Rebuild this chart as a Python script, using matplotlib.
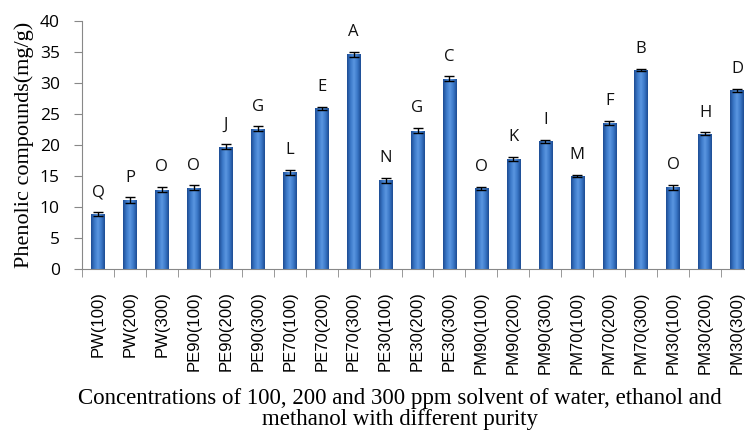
import numpy as np
import matplotlib
matplotlib.use("Agg")
import matplotlib.pyplot as plt
from matplotlib.colors import LinearSegmentedColormap

categories = ["PW(100)", "PW(200)", "PW(300)", "PE90(100)", "PE90(200)", "PE90(300)",
              "PE70(100)", "PE70(200)", "PE70(300)", "PE30(100)", "PE30(200)", "PE30(300)",
              "PM90(100)", "PM90(200)", "PM90(300)", "PM70(100)", "PM70(200)", "PM70(300)",
              "PM30(100)", "PM30(200)", "PM30(300)"]
values = [8.9, 11.1, 12.8, 13.1, 19.7, 22.6, 15.6, 25.9, 34.6, 14.3, 22.3, 30.7,
          13.0, 17.8, 20.6, 15.0, 23.5, 32.1, 13.2, 21.8, 28.8]
errors = [0.3, 0.45, 0.45, 0.4, 0.4, 0.4, 0.4, 0.3, 0.4, 0.35, 0.4, 0.35,
          0.3, 0.3, 0.2, 0.2, 0.35, 0.2, 0.4, 0.25, 0.2]
letters = ["Q", "P", "O", "O", "J", "G", "L", "E", "A", "N", "G", "C",
           "O", "K", "I", "M", "F", "B", "O", "H", "D"]
yticks = [0, 5, 10, 15, 20, 25, 30, 35, 40]

fig = plt.figure(figsize=(7.45, 4.33), dpi=100)
ax = fig.add_axes([82/745, (433-269)/433, (753-82)/745, (269-21)/433])

x = np.arange(len(categories))
w = 0.42
cmap = LinearSegmentedColormap.from_list("b", ["#1d4c93", "#3b78c8", "#5a96e0", "#3b78c8", "#1d4c93"])
grad = np.linspace(0, 1, 64).reshape(1, -1)
bars = ax.bar(x, values, width=w, color="#3a72c2", edgecolor="none", zorder=2)
for b in bars:
    im = ax.imshow(grad, cmap=cmap, aspect="auto", zorder=2.5,
                   extent=[b.get_x(), b.get_x() + b.get_width(), 0, b.get_height()])
    im.set_clip_path(b)
ax.errorbar(x, values, yerr=errors, fmt="none", ecolor="black", elinewidth=1.0,
            capsize=3.5, capthick=1.0, zorder=3)
for xi, v, e, t in zip(x, values, errors, letters):
    ax.text(xi, v + e + 1.9, t, ha="center", va="bottom", fontsize=12,
            family="Open Sans", color="#111111")

ax.set_xlim(-0.5, len(categories) - 0.5)
ax.set_ylim(0, 40)
ax.set_yticks(yticks)
ax.set_yticklabels([str(t) for t in yticks], fontsize=12.5, family="Open Sans")
ax.set_xticks(x)
ax.set_xticklabels(categories, rotation=90, fontsize=12, family="Liberation Sans", va="top")
ax.tick_params(axis="x", which="major", length=0, pad=16)
ax.set_xticks(np.arange(-0.5, len(categories), 1), minor=True)
ax.tick_params(axis="x", which="minor", length=6, color="#888888", direction="out")
ax.tick_params(axis="y", length=6, color="#888888", pad=10)
for s in ["top", "right"]:
    ax.spines[s].set_visible(False)
for s in ["left", "bottom"]:
    ax.spines[s].set_color("#888888")
ax.set_ylabel("Phenolic compounds(mg/g)", family="Liberation Serif", fontsize=16, labelpad=4)
fig.text(400/745, 1 - 409/433, "Concentrations of 100, 200 and 300 ppm solvent of water, ethanol and\nmethanol with different purity",
         ha="center", va="center", family="Liberation Serif", fontsize=16.5, linespacing=1.05)

fig.savefig("out.png", dpi=100)
